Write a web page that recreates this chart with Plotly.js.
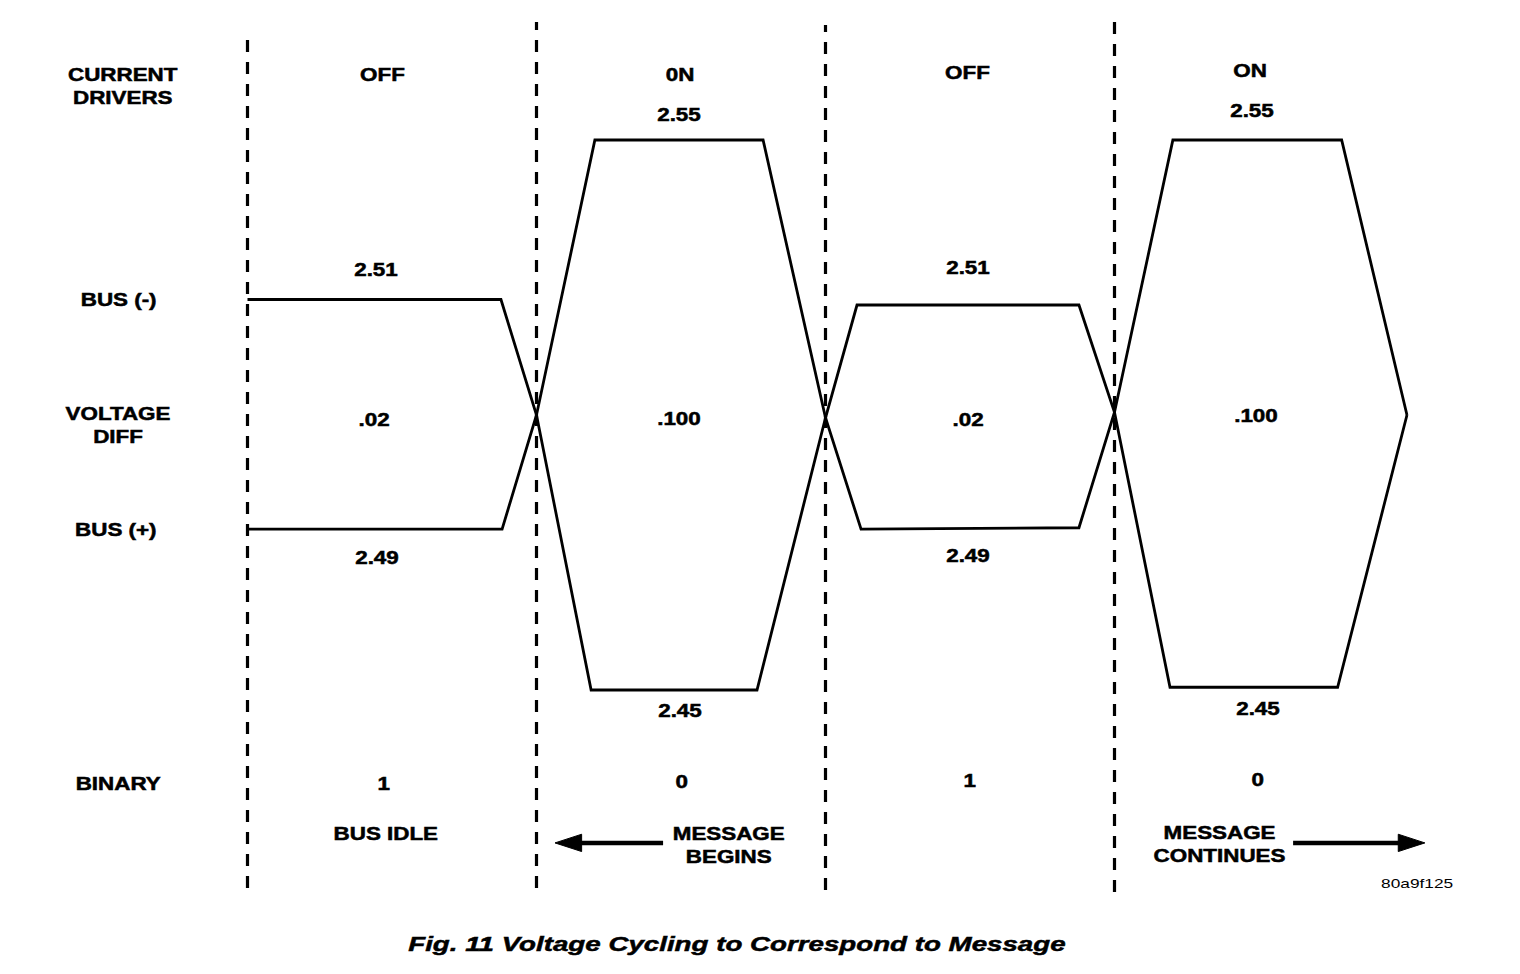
<!DOCTYPE html>
<html>
<head>
<meta charset="utf-8">
<script src="https://cdn.plot.ly/plotly-3.0.1.min.js"></script>
<style>
  html, body { margin: 0; padding: 0; background: #ffffff; }
  #chart { width: 1520px; height: 974px; }
</style>
</head>
<body>
<div id="chart"></div>
<script>
// ---- Data (time in bit periods, level in schematic units: ON = ±1, OFF ≈ ±0.42) ----
const bitBoundaries = [0, 1, 2, 3];
const busMinusT     = [0.00, 0.877, 1.00, 1.189, 1.763, 2.00, 2.109, 2.877, 3.00, 3.192, 3.772, 4.012];
const busMinusLevel = [0.42, 0.42, 0.00, -1.00, -1.00, -0.01, 0.40, 0.40, 0.01, -0.99, -0.99, 0.00];
const busPlusT      = [0.00, 0.881, 1.00, 1.202, 1.784, 2.00, 2.123, 2.877, 3.00, 3.202, 3.786, 4.012];
const busPlusLevel  = [-0.415, -0.415, 0.00, 1.00, 1.00, -0.01, -0.415, -0.41, 0.01, 1.00, 1.00, 0.00];

const driverStates = ['OFF', '0N', 'OFF', 'ON'];
const highVolts    = ['2.51', '2.55', '2.51', '2.55'];
const diffVolts    = ['.02', '.100', '.02', '.100'];
const lowVolts     = ['2.49', '2.45', '2.49', '2.45'];
const binaryBits   = ['1', '0', '1', '0'];
const rowLabels    = ['CURRENT<br>DRIVERS', 'BUS (-)', 'VOLTAGE<br>DIFF', 'BUS (+)', 'BINARY'];
const noteLabels   = ['BUS IDLE', 'MESSAGE<br>BEGINS', 'MESSAGE<br>CONTINUES'];
const arrowBeginsT    = [1.438, 1.064];
const arrowContinuesT = [3.618, 4.074];
const arrowLevel      = [-1.556, -1.556];
const figCode  = '80a9f125';
const figTitle = 'Fig. 11 Voltage Cycling to Correspond to Message';

// ---- Layout helpers (image pixel -> paper fraction) ----
const W = 1520, H = 974;
const px = v => v / W;
const py = v => 1 - v / H;
const FONT = '"Liberation Sans", Arial, Helvetica, sans-serif';
const labelFont = { family: FONT, size: 17.5, color: '#000', weight: 700 };

const arrowMarker = { symbol: 'arrow', size: [0, 28], color: '#000', opacity: 1,
  angleref: 'previous', line: { color: '#000', width: 1 } };

const traces = [
  { x: busMinusT, y: busMinusLevel, type: 'scatter', mode: 'lines',
    line: { color: '#000', width: 2.8 }, name: 'BUS (-)', hoverinfo: 'skip' },
  { x: busPlusT, y: busPlusLevel, type: 'scatter', mode: 'lines',
    line: { color: '#000', width: 2.8 }, name: 'BUS (+)', hoverinfo: 'skip' },
  { x: arrowBeginsT, y: arrowLevel, type: 'scatter', mode: 'lines+markers',
    line: { color: '#000', width: 4.5 }, marker: arrowMarker, hoverinfo: 'skip' },
  { x: arrowContinuesT, y: arrowLevel, type: 'scatter', mode: 'lines+markers',
    line: { color: '#000', width: 4.5 }, marker: arrowMarker, hoverinfo: 'skip' }
];

const dashTop = [30, 22, 25, 22];
const dashBottom = [888, 888, 890, 892];
const shapes = bitBoundaries.map((b, i) => ({
  type: 'line', xref: 'x', yref: 'paper', x0: b, x1: b,
  y0: py(dashBottom[i]), y1: py(dashTop[i]),
  line: { color: '#000', width: 3.2, dash: '12px,10px' }
}));

const annotations = [];
function addText(text, x, y, font) {
  annotations.push({ text, x: px(x), y: py(y), xref: 'paper', yref: 'paper',
    xanchor: 'center', yanchor: 'middle', showarrow: false, font: font || labelFont });
}

const rowPos = [[123, 86], [118, 300], [118, 425.5], [116, 530], [118, 784]];
rowLabels.forEach((t, i) => addText(t, rowPos[i][0], rowPos[i][1]));

const statePos = [[383, 75], [680, 75], [967, 73], [1250, 71]];
const highPos  = [[376, 270], [679, 115], [968, 268], [1252, 111]];
const diffPos  = [[374, 420], [679, 419], [968, 420], [1256, 416]];
const lowPos   = [[377, 558], [680, 711], [968, 556], [1258, 709]];
const bitPos   = [[384, 784], [682, 782], [970, 781], [1258, 780]];
driverStates.forEach((t, i) => addText(t, statePos[i][0], statePos[i][1]));
highVolts.forEach((t, i) => addText(t, highPos[i][0], highPos[i][1]));
diffVolts.forEach((t, i) => addText(t, diffPos[i][0], diffPos[i][1]));
lowVolts.forEach((t, i) => addText(t, lowPos[i][0], lowPos[i][1]));
binaryBits.forEach((t, i) => addText(t, bitPos[i][0], bitPos[i][1]));

const notePos = [[386, 834], [729, 845.5], [1219, 844]];
noteLabels.forEach((t, i) => addText(t, notePos[i][0], notePos[i][1]));
addText(figCode, 1417, 883, { family: FONT, size: 13.5, color: '#000', weight: 400 });

const layout = {
  width: W, height: H,
  margin: { l: 0, r: 0, t: 0, b: 0, pad: 0 },
  paper_bgcolor: '#ffffff', plot_bgcolor: '#ffffff',
  showlegend: false,
  xaxis: { range: [-247.5 / 289, (W - 247.5) / 289], visible: false, fixedrange: true },
  yaxis: { range: [(415 - H) / 275, 415 / 275], visible: false, fixedrange: true },
  shapes, annotations,
  title: { text: figTitle, x: px(737), xref: 'paper', y: 1 - 944 / H, yref: 'container',
    xanchor: 'center', yanchor: 'middle',
    font: { family: FONT, size: 21, color: '#000', weight: 700, style: 'italic' } }
};

Plotly.newPlot('chart', traces, layout, { staticPlot: true, displayModeBar: false }).then(gd => {
  // The reference artwork is stretched horizontally and printed heavy; widen the glyphs to match.
  gd.querySelectorAll('text.annotation-text, text.gtitle').forEach(t => {
    const sx = t.classList.contains('gtitle') ? 1.32 : 1.28;
    const b = t.getBBox();
    const cx = b.x + b.width / 2;
    const prev = t.getAttribute('transform') || '';
    t.setAttribute('transform', prev + ' translate(' + cx + ' 0) scale(' + sx + ' 1) translate(' + (-cx) + ' 0)');
    if (t.textContent !== figCode) {
      t.style.stroke = '#000';
      t.style.strokeWidth = '0.5px';
    }
  });
  gd.querySelectorAll('.scatterlayer .point').forEach(p => {
    p.style.fill = '#000';
    p.style.fillOpacity = '1';
    p.style.stroke = '#000';
  });
});
</script>
</body>
</html>
